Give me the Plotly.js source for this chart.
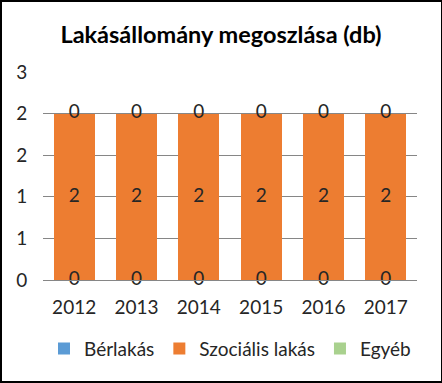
<!DOCTYPE html>
<html><head><meta charset="utf-8">
<script src="https://cdn.plot.ly/plotly-3.0.1.min.js"></script>
<style>
html,body{margin:0;padding:0;background:#fff;}
#wrap{position:relative;width:442px;height:383px;}
#chart{position:absolute;left:0;top:0;width:442px;height:383px;}
#frame{position:absolute;left:0;top:0;width:442px;height:383px;box-sizing:border-box;border:2px solid #000;border-right-width:1px;pointer-events:none;}
</style>
</head><body>
<div id="wrap"><div id="chart"></div><div id="frame"></div></div>
<script>
const years = ['2012','2013','2014','2015','2016','2017'];
const berlakas = [0,0,0,0,0,0];
const szocialis = [2,2,2,2,2,2];
const egyeb = [0,0,0,0,0,0];
const yTickVals = [0,0.5,1,1.5,2,2.5];
const yTickText = ['0','1','1','2','2','3'];

const font = 'Lato, "Open Sans", sans-serif';
const series = [
  {name:'Bérlakás', y:berlakas, color:'#5B9BD5'},
  {name:'Szociális lakás', y:szocialis, color:'#ED7D31'},
  {name:'Egyéb', y:egyeb, color:'#A9D18E'}
];
const traces = series.map(s => ({
  type:'bar', name:s.name, x:years, y:s.y,
  marker:{color:s.color}, hoverinfo:'none'
}));
const base = years.map(()=>0);
series.forEach(s => {
  const mids = s.y.map((v,i)=>base[i]+v/2);
  s.y.forEach((v,i)=>{base[i]+=v;});
  traces.push({
    type:'scatter', mode:'text', x:years, y:mids,
    text:s.y.map(String), textposition:'middle center',
    textfont:{family:font, size:19, color:'#262626'},
    showlegend:false, hoverinfo:'none', cliponaxis:false
  });
});

const layout = {
  width:442, height:383,
  margin:{l:43, r:25, t:72, b:103},
  paper_bgcolor:'#fff', plot_bgcolor:'#fff',
  barmode:'stack', bargap:0.34,
  title:{text:'<b>Lakásállomány megoszlása (db)</b>', font:{family:font, size:23.5, color:'#000'}, x:0.5, xanchor:'center', y:0.91, yanchor:'middle'},
  xaxis:{type:'category', showgrid:false, showline:true, linecolor:'#868686', linewidth:1,
    ticks:'outside', ticklen:10, tickcolor:'rgba(0,0,0,0)', tickfont:{family:font, size:19, color:'#262626'}},
  yaxis:{range:[0,2.5], tickvals:yTickVals, ticktext:yTickText, showgrid:true, gridcolor:'#868686', gridwidth:1,
    zeroline:true, zerolinecolor:'#868686', showline:false,
    ticks:'outside', ticklen:11, tickcolor:'rgba(0,0,0,0)', tickfont:{family:font, size:19, color:'#262626'}},
  legend:{orientation:'h', x:0.5, xanchor:'center', y:-0.33, yanchor:'middle', font:{family:font, size:19, color:'#262626'},
    itemwidth:30, traceorder:'normal'},
  showlegend:true
};
Plotly.newPlot('chart', traces, layout, {displayModeBar:false, staticPlot:true});
</script>
</body></html>
